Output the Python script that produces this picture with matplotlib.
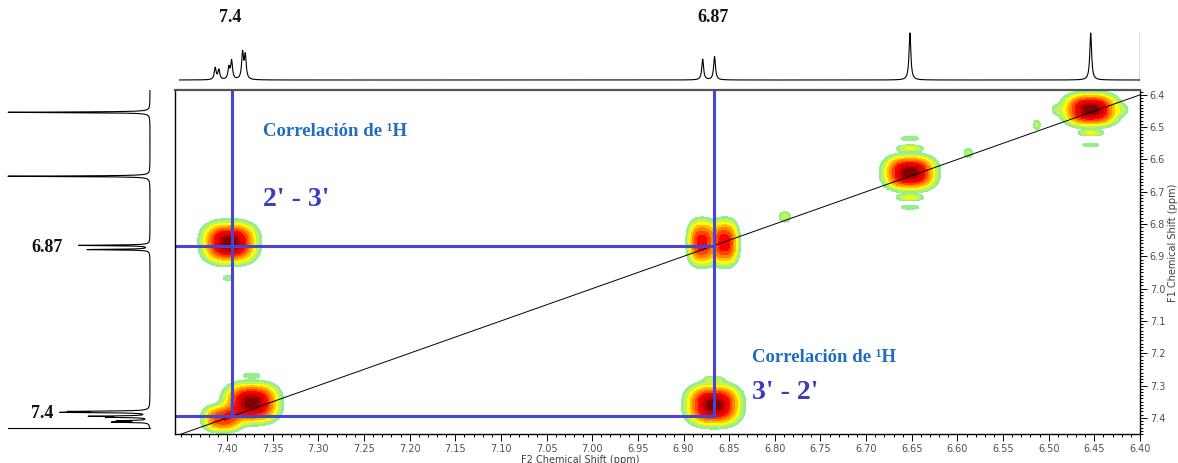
import numpy as np
import matplotlib
matplotlib.use('Agg')
import matplotlib.pyplot as plt
from matplotlib.ticker import FixedLocator, MultipleLocator, FormatStrFormatter

W, H = 1178, 463

# 1H peaks (ppm, relative height)
peak_ppm = [7.413, 7.409, 7.398, 7.395, 7.383, 7.380, 6.879, 6.866, 6.652, 6.454]
peak_height = [0.25, 0.21, 0.25, 0.39, 0.56, 0.50, 0.44, 0.50, 1.0, 1.0]

# COSY spots: F2 centre, F1 centre, intensity, F2 width, F1 width
spot_f2 = [6.454, 6.652, 6.880, 6.855, 7.397, 6.867, 7.373, 7.405,
           7.399, 6.867, 7.373, 6.789, 6.588, 6.513, 6.652, 6.652, 6.652, 6.652, 6.454, 6.454,
           6.490, 6.420]
spot_f1 = [6.446, 6.641, 6.858, 6.858, 6.858, 7.360, 7.354, 7.402,
           6.967, 7.282, 7.268, 6.778, 6.580, 6.493, 6.535, 6.565, 6.718, 6.748, 6.518, 6.555,
           6.446, 6.446]
spot_int = [1.0, 1.0, 0.70, 0.72, 1.0, 1.0, 1.0, 0.6,
            0.10, 0.12, 0.09, 0.13, 0.11, 0.11, 0.10, 0.18, 0.18, 0.10, 0.18, 0.10,
            0.08, 0.08]
spot_wx = [0.023, 0.022, 0.012, 0.012, 0.023, 0.023, 0.023, 0.017,
           0.006, 0.010, 0.010, 0.006, 0.005, 0.004, 0.011, 0.013, 0.013, 0.011, 0.012, 0.010,
           0.007, 0.007]
spot_wy = [0.039, 0.041, 0.055, 0.055, 0.049, 0.049, 0.047, 0.032,
           0.008, 0.010, 0.008, 0.016, 0.015, 0.015, 0.007, 0.009, 0.009, 0.007, 0.008, 0.006,
           0.016, 0.016]

x_ticks = [7.40, 7.35, 7.30, 7.25, 7.20, 7.15, 7.10, 7.05, 7.00, 6.95, 6.90,
           6.85, 6.80, 6.75, 6.70, 6.65, 6.60, 6.55, 6.50, 6.45, 6.40]
y_ticks = [6.4, 6.5, 6.6, 6.7, 6.8, 6.9, 7.0, 7.1, 7.2, 7.3, 7.4]

levels = [0.05, 0.1, 0.17, 0.26, 0.37, 0.5, 0.63, 0.76, 0.87, 0.95, 10]
colors = ['#94ee8c', '#c4f258', '#ffff00', '#ffc000', '#ff8400', '#ff4400',
          '#ff0000', '#e00000', '#b40000', '#800000']

XL = (7.457, 6.40)
YL = (7.45, 6.385)


def frac(px, py):
    return px / W, 1 - py / H


def spectrum(grid):
    s = np.zeros_like(grid)
    for p, h in zip(peak_ppm, peak_height):
        g = 0.0012
        s += h * g**2 / ((grid - p)**2 + g**2)
    return s


fig = plt.figure(figsize=(W / 100, H / 100), dpi=100)

# main 2D panel
ax = fig.add_axes([175 / W, 1 - 434 / H, 965 / W, 344 / H])
gx = np.linspace(6.39, 7.47, 1100)
gy = np.linspace(6.37, 7.47, 600)
X, Y = np.meshgrid(gx, gy)
Z = np.zeros_like(X)
for cx, cy, a, wx, wy in zip(spot_f2, spot_f1, spot_int, spot_wx, spot_wy):
    Z += a * np.exp(-(np.abs((X - cx) / wx)**2.6 + np.abs((Y - cy) / wy)**2.6))
ax.contourf(X, Y, Z, levels=levels, colors=colors)

ax.plot([XL[0], 6.40], [XL[0], 6.40], color='black', lw=0.7)

blue = '#4646d2'
for v in [7.395, 6.867]:
    ax.plot([v, v], [YL[1], 7.395], color=blue, lw=2.2)
for h in [6.867, 7.395]:
    ax.plot([XL[0], 6.867], [h, h], color=blue, lw=2.2)

ax.text(7.361, 6.515, 'Correlación de ¹H', color='#1f6cc0', fontsize=13.5,
        fontweight='bold', family='Liberation Serif', va='center', ha='left')
ax.text(7.361, 6.725, "2' - 3'", color='#3c3cc0', fontsize=20,
        fontweight='bold', family='Liberation Serif', va='center', ha='left')
ax.text(6.825, 7.214, 'Correlación de ¹H', color='#1f6cc0', fontsize=13.5,
        fontweight='bold', family='Liberation Serif', va='center', ha='left')
ax.text(6.825, 7.320, "3' - 2'", color='#3c3cc0', fontsize=20,
        fontweight='bold', family='Liberation Serif', va='center', ha='left')

ax.set_xlim(*XL)
ax.set_ylim(*YL)
ax.xaxis.set_major_locator(FixedLocator(x_ticks))
ax.xaxis.set_major_formatter(FormatStrFormatter('%.2f'))
ax.xaxis.set_minor_locator(MultipleLocator(0.01))
ax.yaxis.tick_right()
ax.yaxis.set_major_locator(FixedLocator(y_ticks))
ax.yaxis.set_major_formatter(FormatStrFormatter('%.1f'))
ax.yaxis.set_minor_locator(MultipleLocator(0.01))
ax.tick_params(which='both', direction='out', labelsize=7, labelcolor='#505050',
               width=0.7, pad=2)
ax.tick_params(which='major', length=5)
ax.tick_params(which='minor', length=2.5)
for sp in ax.spines.values():
    sp.set_linewidth(1.0)
ax.spines['top'].set_color('#555555')
ax.spines['top'].set_linewidth(1.6)

# top projection
axt = fig.add_axes([175 / W, 1 - 88 / H, 965 / W, 58 / H])
sx = np.linspace(7.452, 6.40, 6000)
axt.plot(sx, spectrum(sx), color='black', lw=0.8)
axt.plot([6.40, 6.40], [0, 1.02], color='black', lw=0.9)
axt.set_xlim(*XL)
axt.set_ylim(-0.17, 1.064)
axt.axis('off')

# left projection
axl = fig.add_axes([5 / W, 1 - 434 / H, 147 / W, 344 / H])
sy = np.linspace(6.380, 7.43, 6000)
axl.plot(spectrum(sy), sy, color='black', lw=0.8)
axl.plot([1.0, 0.0], [7.43, 7.43], color='black', lw=0.8)
axl.set_xlim(1.021, -0.014)
axl.set_ylim(*YL)
axl.axis('off')

# peak labels
lab = dict(fontsize=13, fontweight='bold', family='Liberation Serif', color='#111111',
           ha='center', va='center')
fig.text(*frac(230, 18), '7.4', **lab)
fig.text(*frac(713, 18), '6.87', **lab)
fig.text(*frac(47, 247), '6.87', **lab)
fig.text(*frac(42, 413), '7.4', **lab)

fig.text(*frac(580, 460), 'F2 Chemical Shift (ppm)', fontsize=7, color='#404040',
         ha='center', va='center')
fig.text(*frac(1173, 243), 'F1 Chemical Shift (ppm)', fontsize=7, color='#404040',
         ha='center', va='center', rotation=90)

fig.savefig('out.png', dpi=100)
